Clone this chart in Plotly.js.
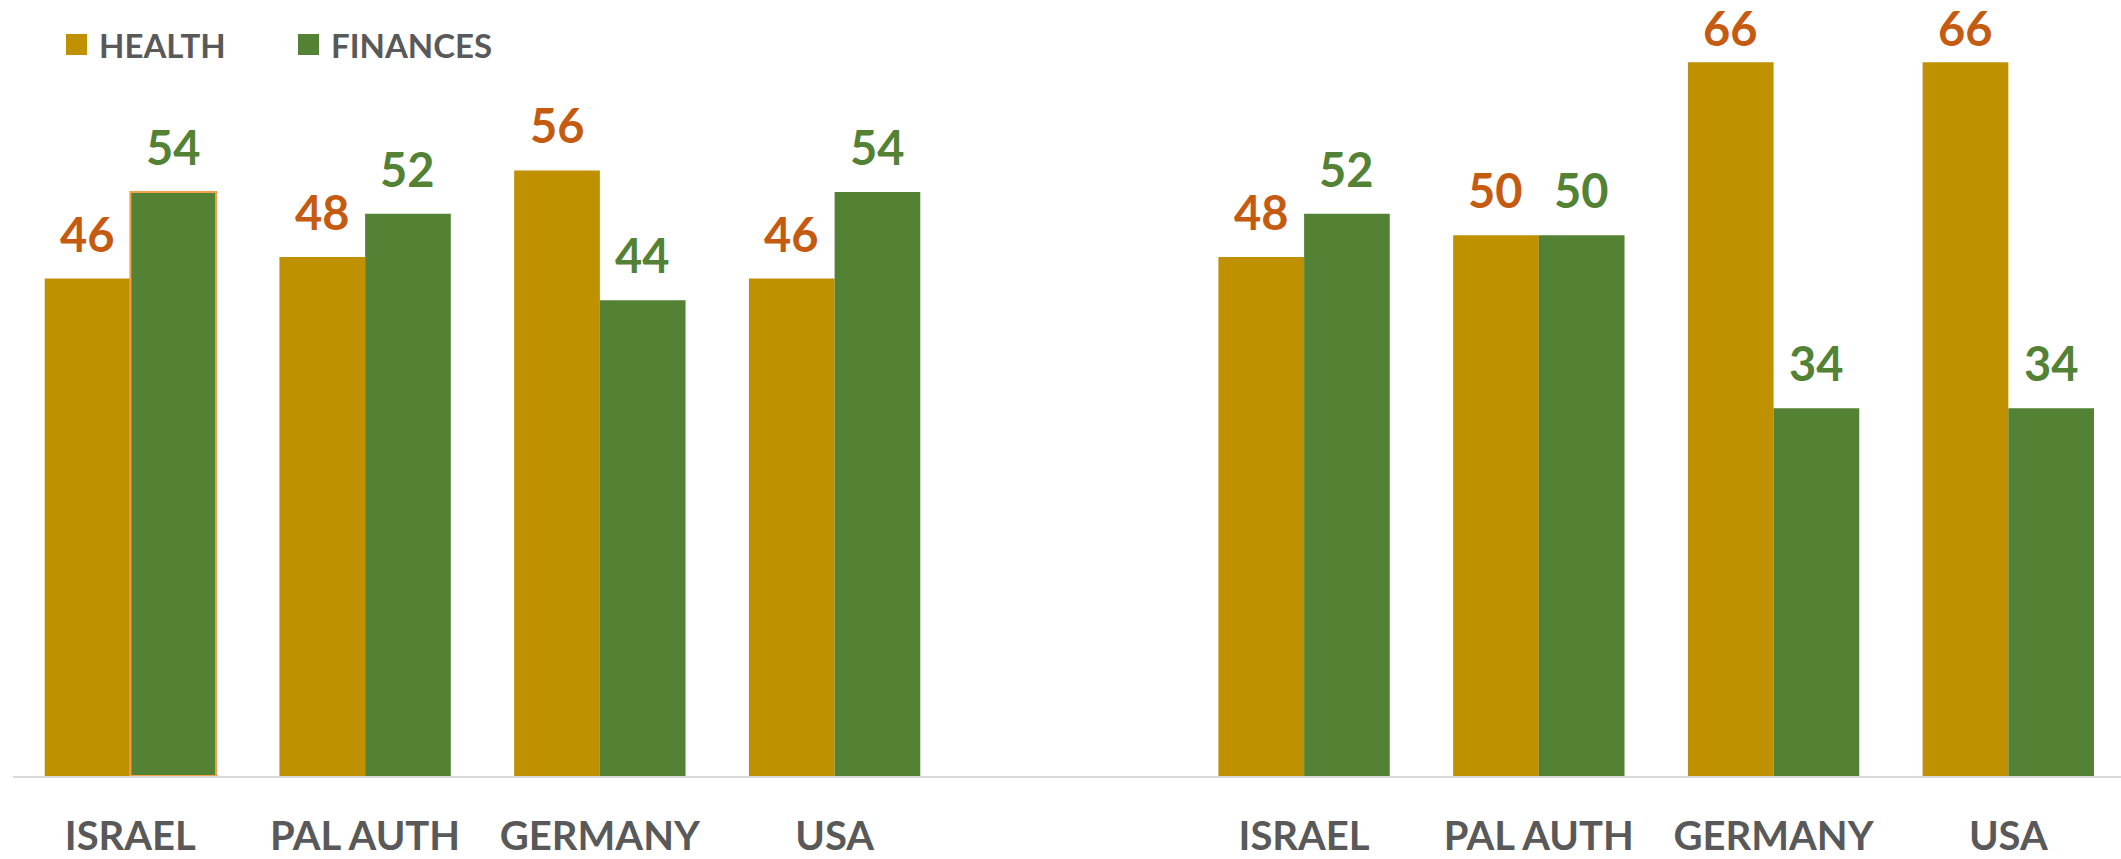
<!DOCTYPE html>
<html>
<head>
<meta charset="utf-8">
<script src="https://cdn.plot.ly/plotly-3.0.1.min.js"></script>
<style>
  html, body { margin: 0; padding: 0; background: #ffffff; }
  #chart { width: 2121px; height: 859px; }
</style>
</head>
<body>
<div id="chart"></div>
<script>
// 两组调查数据（左：第一组，右：第二组）
const countries = ['ISRAEL', 'PAL AUTH', 'GERMANY', 'USA'];
const seriesNames = ['HEALTH', 'FINANCES'];
const healthLeft = [46, 48, 56, 46];
const financesLeft = [54, 52, 44, 54];
const healthRight = [48, 50, 66, 66];
const financesRight = [52, 50, 34, 34];

// 颜色
const barColors = ['#BF9000', '#548235'];
const labelColors = ['#C55A11', '#548235'];
const textGray = '#595959';
const FONT = 'Lato, "Open Sans", sans-serif';

// 左右两组之间空一个位置
const groupStarts = [0, countries.length + 1];
const slots = [];
const tickText = [];
groupStarts.forEach(start => {
    countries.forEach((c, i) => {
        slots.push(start + i);
        tickText.push(c);
    });
});

const healthValues = healthLeft.concat(healthRight);
const financeValues = financesLeft.concat(financesRight);
const seriesValues = [healthValues, financeValues];

const bargap = 0.27;
const yMax = 70;

// 绘图区（像素）
const plotL = 13, plotW = 2108, plotT = 19, plotH = 757;

// 左侧 ISRAEL 的 FINANCES 柱子带一条橙色描边（原图中被选中的样子）
const financeLineColors = financeValues.map((v, i) => i === 0 ? '#F4A04A' : 'rgba(0,0,0,0)');
const financeLineWidths = financeValues.map((v, i) => i === 0 ? 2 : 0);

const data = seriesNames.map((name, s) => ({
    type: 'bar',
    name: name,
    x: slots,
    y: seriesValues[s],
    marker: {
        color: barColors[s],
        line: s === 1
            ? { color: financeLineColors, width: financeLineWidths }
            : { width: 0 }
    },
    hoverinfo: 'skip',
    showlegend: false
}));

// 数据标签：标签放在柱顶上方，太高的标签被压回画布内（和 Excel 一样）
const labelSize = 47;
const labelGap = 16;
const labelBoxH = Math.ceil(labelSize * 1.2);
const halfBar = (1 - bargap) / 4;
const annotations = [];
seriesValues.forEach((vals, s) => {
    vals.forEach((v, i) => {
        const barTopPx = plotT + plotH * (1 - v / yMax);
        annotations.push({
            x: slots[i] + (s === 0 ? -halfBar : halfBar),
            y: v,
            xref: 'x',
            yref: 'y',
            text: String(v),
            showarrow: false,
            xanchor: 'center',
            yanchor: 'bottom',
            yshift: Math.min(labelGap, barTopPx - labelBoxH),
            borderpad: 0,
            font: { family: FONT, size: labelSize, color: labelColors[s], weight: 700 }
        });
    });
});

// 自绘图例（大方块）
const px = x => (x - plotL) / plotW;
const py = y => (plotT + plotH - y) / plotH;
const legendItems = [
    { sq: [66, 87], textX: 97 },
    { sq: [298, 319], textX: 329 }
];
const shapes = [];
legendItems.forEach((item, s) => {
    shapes.push({
        type: 'rect',
        xref: 'paper', yref: 'paper',
        x0: px(item.sq[0]), x1: px(item.sq[1]),
        y0: py(55), y1: py(34),
        fillcolor: barColors[s],
        line: { width: 0 }
    });
    annotations.push({
        xref: 'paper', yref: 'paper',
        x: px(item.textX), y: py(45),
        xanchor: 'left', yanchor: 'middle',
        text: seriesNames[s],
        showarrow: false,
        font: { family: FONT, size: 33, color: textGray, weight: 700 }
    });
});

const layout = {
    width: 2121,
    height: 859,
    margin: { l: plotL, r: 0, t: plotT, b: 859 - plotT - plotH },
    paper_bgcolor: '#ffffff',
    plot_bgcolor: '#ffffff',
    barmode: 'group',
    bargap: bargap,
    bargroupgap: 0,
    showlegend: false,
    xaxis: {
        range: [-0.5, 8.48],
        tickmode: 'array',
        tickvals: slots,
        ticktext: tickText,
        showgrid: false,
        zeroline: false,
        showline: true,
        linecolor: '#D9D9D9',
        linewidth: 2,
        ticks: '',
        ticklabelstandoff: 24,
        tickfont: { family: FONT, size: 40, color: textGray, weight: 700 },
        fixedrange: true
    },
    yaxis: {
        range: [0, yMax],
        visible: false,
        showgrid: false,
        zeroline: false,
        fixedrange: true
    },
    shapes: shapes,
    annotations: annotations
};

Plotly.newPlot('chart', data, layout, { displayModeBar: false, staticPlot: true });
</script>
</body>
</html>
